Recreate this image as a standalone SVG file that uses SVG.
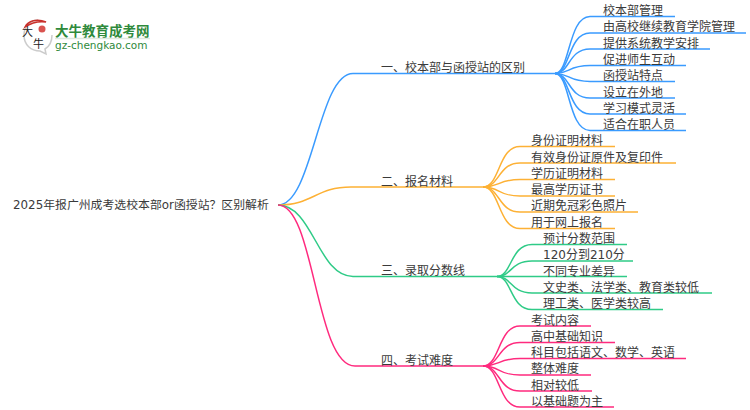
<svg xmlns="http://www.w3.org/2000/svg" width="750" height="410" viewBox="0 0 750 410">
<style>
text{font-family:"DejaVu Sans","Noto Sans CJK SC",sans-serif;font-size:12px;fill:#3a3a3a}
path{fill:none;stroke-width:1.5}
.b{stroke:#3a9bff}.o{stroke:#fdb135}.g{stroke:#2fcb87}.p{stroke:#ff2a7e}
.lead{font-weight:700;fill:#2f8a3c}
</style>
<rect width="750" height="410" fill="#fff"/>
<g id="logo">
<path d="M38 20C30 20 24 27 24 35C24 45 31 51 40 51L46 54L45 49C50 46 52 41 52 35" stroke="#ccc" stroke-width="1.2"/>
<path d="M25 27C28 21 37 18 46 22C38 21 31 23 25 27Z" fill="#c8302b" stroke="#c8302b" stroke-width="1"/>
<circle cx="42" cy="29" r="3.500" fill="#d9534f"/>
<text x="22" y="36" style="font-size:11px;fill:#222;font-family:'Noto Sans CJK SC',sans-serif">大</text>
<text x="33" y="48" style="font-size:11px;fill:#222;font-family:'Noto Sans CJK SC',sans-serif">牛</text>
<text class="lead" x="55" y="35.500" style="font-size:13.500px;font-family:'Noto Sans CJK SC',sans-serif">大牛教育成考网</text>
<path d="M55 38.500H150" stroke="#dfe8df" stroke-width="1"/>
<text x="55" y="49" style="font-size:10.500px;fill:#2f8a3c">gz-chengkao.com</text>
</g>
<g id="connectors">
<path class="b" d="M278 205C313 205 318 73.500 353 73.500H555"/>
<path class="o" d="M278 205C313 205 316 187 351 187H483"/>
<path class="g" d="M278 205C313 205 318 276.500 353 276.500H497"/>
<path class="p" d="M278 205C315 205 315 366 355 366H483"/>
<path class="b" d="M555 73.500C570 73.500 568 16.500 590 16.500H675"/>
<path class="b" d="M555 73.500C570 73.500 568 33 590 33H746"/>
<path class="b" d="M555 73.500C570 73.500 568 49 590 49H710"/>
<path class="b" d="M555 73.500C570 73.500 568 65.500 590 65.500H686"/>
<path class="b" d="M555 73.500C570 73.500 568 81.500 590 81.500H675"/>
<path class="b" d="M555 73.500C570 73.500 568 98 590 98H675"/>
<path class="b" d="M555 73.500C570 73.500 568 114 590 114H686"/>
<path class="b" d="M555 73.500C570 73.500 568 130.500 590 130.500H686"/>
<path class="o" d="M483 187C500 187 498 146.500 520 146.500H615"/>
<path class="o" d="M483 187C500 187 498 163 520 163H676"/>
<path class="o" d="M483 187C500 187 498 179.500 520 179.500H615"/>
<path class="o" d="M483 187C500 187 498 196 520 196H615"/>
<path class="o" d="M483 187C500 187 498 212 520 212H638"/>
<path class="o" d="M483 187C500 187 498 228.500 520 228.500H615"/>
<path class="g" d="M497 276.500C512 276.500 510 244.500 532 244.500H627"/>
<path class="g" d="M497 276.500C512 276.500 510 261 532 261H633"/>
<path class="g" d="M497 276.500H627"/>
<path class="g" d="M497 276.500C512 276.500 510 293 532 293H712"/>
<path class="g" d="M497 276.500C512 276.500 510 309.500 532 309.500H663"/>
<path class="p" d="M483 366C500 366 498 326 520 326H591"/>
<path class="p" d="M483 366C500 366 498 342.500 520 342.500H615"/>
<path class="p" d="M483 366C500 366 498 358.500 520 358.500H686"/>
<path class="p" d="M483 366C500 366 498 375 520 375H591"/>
<path class="p" d="M483 366C500 366 498 391 520 391H592"/>
<path class="p" d="M483 366C500 366 498 407 520 407H614"/>
</g>
<g id="root"><text x="13" y="209" style="font-size:11.860px">2025年报广州成考选校本部or函授站？区别解析</text></g>
<g id="b1"><text x="381" y="71.500">一、校本部与函授站的区别</text></g>
<g id="b2"><text x="381" y="185.500">二、报名材料</text></g>
<g id="b3"><text x="381" y="275">三、录取分数线</text></g>
<g id="b4"><text x="381" y="364.500">四、考试难度</text></g>
<g id="n1"><text x="603" y="15">校本部管理</text></g>
<g id="n2"><text x="603" y="31">由高校继续教育学院管理</text></g>
<g id="n3"><text x="603" y="47.500">提供系统教学安排</text></g>
<g id="n4"><text x="603" y="63.500">促进师生互动</text></g>
<g id="n5"><text x="603" y="80">函授站特点</text></g>
<g id="n6"><text x="603" y="96.500">设立在外地</text></g>
<g id="n7"><text x="603" y="112.500">学习模式灵活</text></g>
<g id="n8"><text x="603" y="129">适合在职人员</text></g>
<g id="n9"><text x="531" y="145">身份证明材料</text></g>
<g id="n10"><text x="531" y="161.500">有效身份证原件及复印件</text></g>
<g id="n11"><text x="531" y="177.500">学历证明材料</text></g>
<g id="n12"><text x="531" y="194">最高学历证书</text></g>
<g id="n13"><text x="531" y="210">近期免冠彩色照片</text></g>
<g id="n14"><text x="531" y="226.500">用于网上报名</text></g>
<g id="n15"><text x="543" y="243">预计分数范围</text></g>
<g id="n16"><text x="543" y="259">120分到210分</text></g>
<g id="n17"><text x="543" y="275.500">不同专业差异</text></g>
<g id="n18"><text x="543" y="291.500">文史类、法学类、教育类较低</text></g>
<g id="n19"><text x="543" y="308">理工类、医学类较高</text></g>
<g id="n20"><text x="531" y="324.500">考试内容</text></g>
<g id="n21"><text x="531" y="340.500">高中基础知识</text></g>
<g id="n22"><text x="531" y="357">科目包括语文、数学、英语</text></g>
<g id="n23"><text x="531" y="373">整体难度</text></g>
<g id="n24"><text x="531" y="389.500">相对较低</text></g>
<g id="n25"><text x="531" y="405.500">以基础题为主</text></g>
</svg>
